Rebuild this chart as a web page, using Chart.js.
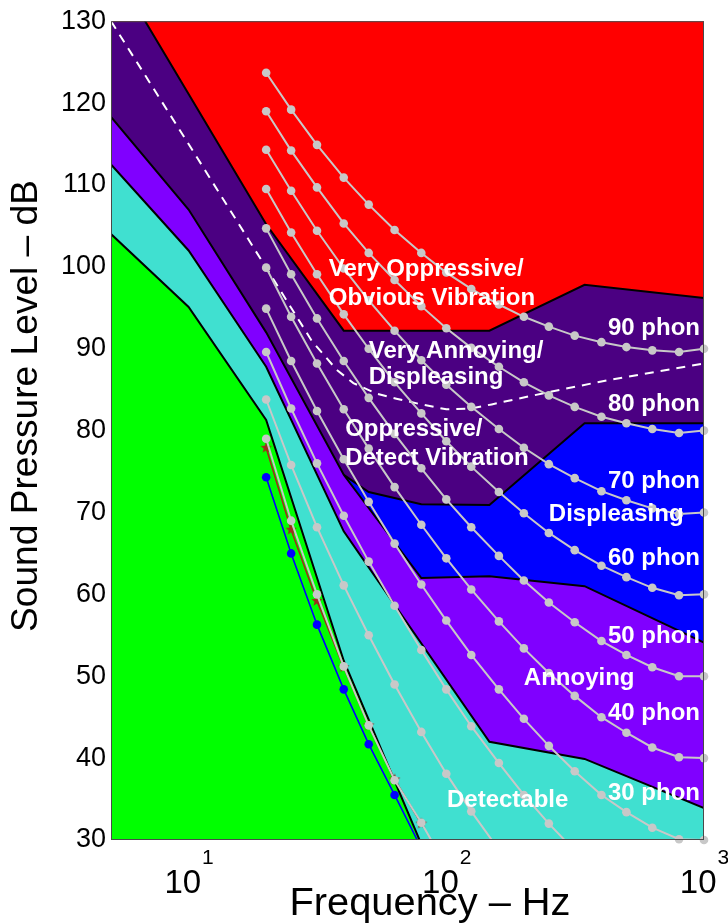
<!DOCTYPE html>
<html>
<head>
<meta charset="utf-8">
<script src="https://cdn.jsdelivr.net/npm/chart.js@4.4.1/dist/chart.umd.min.js"></script>
<style>
  html, body { margin: 0; padding: 0; background: #ffffff; }
  canvas { display: block; }
</style>
</head>
<body>
<canvas id="chart" width="728" height="923"></canvas>
<script>
// ---- Equal-loudness contours (dB SPL at 1/3-octave band centres) ----
const bandFreqs = [20, 25, 31.5, 40, 50, 63, 80, 100, 125, 160, 200, 250, 315, 400, 500, 630, 800, 1000];
const phon90 = [123.7, 119.2, 114.9, 110.9, 107.6, 104.5, 101.7, 99.3, 97.3, 95.4, 93.9, 92.7, 91.6, 90.8, 90.2, 89.8, 89.6, 90.0];
const phon80 = [119.0, 114.2, 109.7, 105.3, 101.7, 98.4, 95.2, 92.5, 90.1, 87.8, 85.9, 84.3, 82.9, 81.7, 80.9, 80.2, 79.7, 80.0];
const phon70 = [114.3, 109.3, 104.4, 99.8, 95.9, 92.2, 88.6, 85.6, 82.9, 80.2, 77.9, 75.9, 74.2, 72.6, 71.5, 70.5, 69.8, 70.0];
const phon60 = [109.5, 104.2, 99.1, 94.2, 90.0, 85.9, 82.1, 78.7, 75.6, 72.5, 69.9, 67.5, 65.4, 63.5, 62.1, 60.8, 59.9, 60.0];
const phon50 = [104.7, 99.1, 93.7, 88.5, 84.0, 79.6, 75.4, 71.6, 68.2, 64.7, 61.7, 59.0, 56.6, 54.3, 52.6, 51.1, 50.0, 50.0];
const phon40 = [99.9, 93.9, 88.2, 82.6, 77.8, 73.1, 68.5, 64.4, 60.6, 56.7, 53.4, 50.4, 47.6, 45.0, 43.1, 41.3, 40.1, 40.0];
const phon30 = [94.9, 88.5, 82.4, 76.5, 71.3, 66.2, 61.2, 56.8, 52.6, 48.4, 44.8, 41.5, 38.4, 35.5, 33.4, 31.5, 30.1, 30.0];
const phon20 = [89.6, 82.7, 76.0, 69.6, 64.0, 58.6, 53.2, 48.4, 43.9, 39.4, 35.5, 32.0, 28.7, 25.7];
const phon10 = [83.8, 75.8, 68.2, 61.1, 55.0, 49.0, 43.2, 38.1, 33.5, 28.8, 24.8];
const hearingThreshold = [79.0, 69.0, 60.0, 51.2, 44.0, 37.3, 32.1, 26.8];

// ---- Low-frequency threshold measurements ----
const thresholdFreqs = [20, 25, 31.5, 40, 50, 63, 80];
const starThreshold = [77.9, 67.9, 59.2, 51.1, 44.0, 37.4, 32.0];
const dotThreshold  = [74.3, 65.0, 56.3, 48.4, 41.7, 35.5, 29.0];

// ---- Annoyance category boundaries ----
const inaudibleFreqs = [5, 10, 20, 40, 80];
const inaudibleTop   = [104.0, 95.1, 81.3, 51.9, 29.5];
const detectableFreqs = [5, 10, 20, 40, 147, 344, 1000];
const detectableTop   = [112.5, 102.0, 87.8, 67.7, 42.0, 39.9, 33.9];
const annoyingFreqs = [5, 10, 20, 40, 80, 147, 344, 1000];
const annoyingTop   = [118.3, 107.0, 92.0, 74.6, 62.0, 62.2, 61.0, 54.1];
const displeasingFreqs = [40, 50, 80, 147, 344, 1000];
const displeasingTop   = [74.6, 72.5, 71.0, 70.9, 80.9, 80.9];
const oppressiveFreqs = [5, 10, 20, 40, 147, 344, 1000];
const oppressiveTop   = [137.0, 121.1, 105.2, 92.2, 92.2, 97.8, 96.2];

// ---- Dashed reference curve ----
const dashedFreqs = [5, 10, 20, 30, 37.6, 43.6, 53.7, 64, 80, 100, 125, 150, 250, 430, 1000];
const dashedLevel = [130, 115, 99.9, 91.0, 87.4, 85.8, 84.5, 83.9, 83.2, 82.6, 82.7, 83.2, 84.7, 86.2, 88.2];

// ---- Axis ticks ----
const xTickValues = [10, 100, 1000];
const xTickExponents = ['1', '2', '3'];

// ---- Text annotations ----
const regionText = [
  { text: 'Very Oppressive/',  f: 35,  db: 99.7 },
  { text: 'Obvious Vibration', f: 35,  db: 96.1 },
  { text: 'Very Annoying/',    f: 50,  db: 89.7 },
  { text: 'Displeasing',       f: 50,  db: 86.5 },
  { text: 'Oppressive/',       f: 40.5, db: 80.1 },
  { text: 'Detect Vibration',  f: 40.5, db: 76.6 },
  { text: 'Displeasing',       f: 250, db: 69.8 },
  { text: 'Annoying',          f: 200, db: 49.8 },
  { text: 'Detectable',        f: 100.6, db: 34.9 }
];
const phonText  = ['90 phon', '80 phon', '70 phon', '60 phon', '50 phon', '40 phon', '30 phon'];
const phonTextDb = [92.5, 83.2, 73.8, 64.4, 54.9, 45.45, 35.7];

const FONT = '"Liberation Sans", Arial, Helvetica, sans-serif';
const GRAY = '#c8c8c8';
const BROWN = '#a02c1c';

const toXY = (fs, vs) => vs.map((v, i) => ({ x: fs[i], y: v }));

function regionDataset(fs, vs, color, order) {
  return {
    data: toXY(fs, vs), borderColor: '#000000', borderWidth: 2,
    backgroundColor: color, fill: 'start', pointRadius: 0, clip: 0, order
  };
}
function lineDataset(fs, vs, color, width, order, dash) {
  return {
    data: toXY(fs, vs), borderColor: color, borderWidth: width, borderDash: dash || [],
    fill: false, pointRadius: 0, clip: 0, order
  };
}
function pointDataset(fs, vs, color, radius, style, order) {
  return {
    data: toXY(fs, vs), showLine: false, fill: false, pointStyle: style,
    pointRadius: (c) => (c.raw && c.raw.y >= 30 && c.raw.y <= 130 ? radius : 0),
    pointBackgroundColor: color, pointBorderColor: color, pointBorderWidth: 0,
    clip: 12, order
  };
}

// filled pentagram marker
function makeStar(r, color) {
  const s = Math.ceil(r * 2 + 2);
  const c = document.createElement('canvas');
  c.width = s; c.height = s;
  const g = c.getContext('2d');
  g.translate(s / 2, s / 2);
  g.beginPath();
  for (let i = 0; i < 10; i++) {
    const rr = i % 2 ? r * 0.42 : r;
    const a = -Math.PI / 2 + i * Math.PI / 5;
    g.lineTo(rr * Math.cos(a), rr * Math.sin(a));
  }
  g.closePath();
  g.fillStyle = color;
  g.fill();
  return c;
}
const starImg = makeStar(6, BROWN);

const contourSets = [
  [bandFreqs, phon90], [bandFreqs, phon80], [bandFreqs, phon70], [bandFreqs, phon60],
  [bandFreqs, phon50], [bandFreqs, phon40], [bandFreqs, phon30], [bandFreqs, phon20],
  [bandFreqs, phon10], [bandFreqs, hearingThreshold]
];

const datasets = [
  regionDataset(oppressiveFreqs, oppressiveTop, '#4b0082', 100),
  regionDataset(displeasingFreqs, displeasingTop, '#0000ff', 90),
  regionDataset(annoyingFreqs, annoyingTop, '#8000ff', 80),
  regionDataset(detectableFreqs, detectableTop, '#40e0d0', 70),
  regionDataset(inaudibleFreqs, inaudibleTop, '#00ff00', 60),
  lineDataset(dashedFreqs, dashedLevel, '#ffffff', 2, 50, [9, 7]),
  lineDataset(thresholdFreqs, starThreshold, BROWN, 1.6, 45),
  pointDataset(thresholdFreqs, starThreshold, BROWN, 6, starImg, 44),
  lineDataset(thresholdFreqs, dotThreshold, '#0000ff', 1.6, 43),
  pointDataset(thresholdFreqs, dotThreshold, '#0000ff', 4.3, 'circle', 42)
];
contourSets.forEach(([fs, vs]) => {
  datasets.push(lineDataset(fs, vs, GRAY, 2, 30));
  datasets.push(pointDataset(fs, vs, GRAY, 4.3, 'circle', 20));
});

// red background for the top category
const backgroundPlugin = {
  id: 'areaBackground',
  beforeDatasetsDraw(chart) {
    const a = chart.chartArea, ctx = chart.ctx;
    ctx.save();
    ctx.fillStyle = '#ff0000';
    ctx.fillRect(a.left, a.top, a.right - a.left, a.bottom - a.top);
    ctx.restore();
  }
};

function fitText(ctx, text, cx, cy, font, width, rot) {
  ctx.save();
  ctx.font = font;
  const w = ctx.measureText(text).width;
  ctx.translate(cx, cy);
  if (rot) ctx.rotate(rot);
  ctx.scale(width / w, 1);
  ctx.textAlign = 'center';
  ctx.textBaseline = 'middle';
  ctx.fillStyle = '#000000';
  ctx.fillText(text, 0, 0);
  ctx.restore();
}

const annotationPlugin = {
  id: 'annotations',
  afterDatasetsDraw(chart) {
    const ctx = chart.ctx, xs = chart.scales.x, ys = chart.scales.y, a = chart.chartArea;
    ctx.save();
    ctx.fillStyle = '#ffffff';
    ctx.font = 'bold 24px ' + FONT;
    ctx.textBaseline = 'middle';
    ctx.textAlign = 'left';
    regionText.forEach(t => {
      ctx.fillText(t.text, xs.getPixelForValue(t.f), ys.getPixelForValue(t.db));
    });
    ctx.textAlign = 'right';
    phonText.forEach((t, i) => {
      ctx.fillText(t, xs.getPixelForValue(1000) - 4, ys.getPixelForValue(phonTextDb[i]));
    });
    // axes box
    ctx.strokeStyle = '#4a4a4a';
    ctx.lineWidth = 1;
    ctx.strokeRect(a.left + 0.5, a.top + 0.5, a.right - a.left - 1, a.bottom - a.top - 1);
    ctx.restore();
  },
  afterDraw(chart) {
    const ctx = chart.ctx, xs = chart.scales.x;
    ctx.save();
    ctx.fillStyle = '#000000';
    ctx.textBaseline = 'alphabetic';
    ctx.textAlign = 'left';
    xTickValues.forEach((v, i) => {
      const x = xs.getPixelForValue(v);
      ctx.font = '33px ' + FONT;
      const wb = ctx.measureText('10').width;
      ctx.font = '21px ' + FONT;
      const we = ctx.measureText(xTickExponents[i]).width;
      const start = x - (wb + we) / 2;
      ctx.font = '33px ' + FONT;
      ctx.fillText('10', start, 893);
      ctx.font = '21px ' + FONT;
      ctx.fillText(xTickExponents[i], start + wb + 1, 864);
    });
    fitText(ctx, 'Frequency \u2013 Hz', 430, 905, '38px ' + FONT, 281, 0);
    fitText(ctx, 'Sound Pressure Level \u2013 dB', 27, 406, '37px ' + FONT, 452, -Math.PI / 2);
    ctx.restore();
  }
};

Chart.defaults.font.family = FONT;

new Chart(document.getElementById('chart'), {
  type: 'line',
  data: { datasets },
  options: {
    responsive: false,
    devicePixelRatio: 1,
    animation: false,
    events: [],
    layout: { padding: { top: 18, right: 24, left: 0, bottom: 0 } },
    elements: { line: { tension: 0 } },
    plugins: {
      legend: { display: false },
      tooltip: { enabled: false },
      filler: { propagate: false }
    },
    scales: {
      x: {
        type: 'logarithmic', min: 5, max: 1000,
        ticks: { display: false },
        grid: { display: false, drawTicks: false },
        border: { display: false },
        afterFit: (s) => { s.height = 83; }
      },
      y: {
        type: 'linear', min: 30, max: 130,
        ticks: { stepSize: 10, color: '#000000', font: { size: 27 }, padding: 5 },
        grid: { display: false, drawTicks: false },
        border: { display: false },
        afterFit: (s) => { s.width = 111; }
      }
    }
  },
  plugins: [backgroundPlugin, annotationPlugin]
});
</script>
</body>
</html>
